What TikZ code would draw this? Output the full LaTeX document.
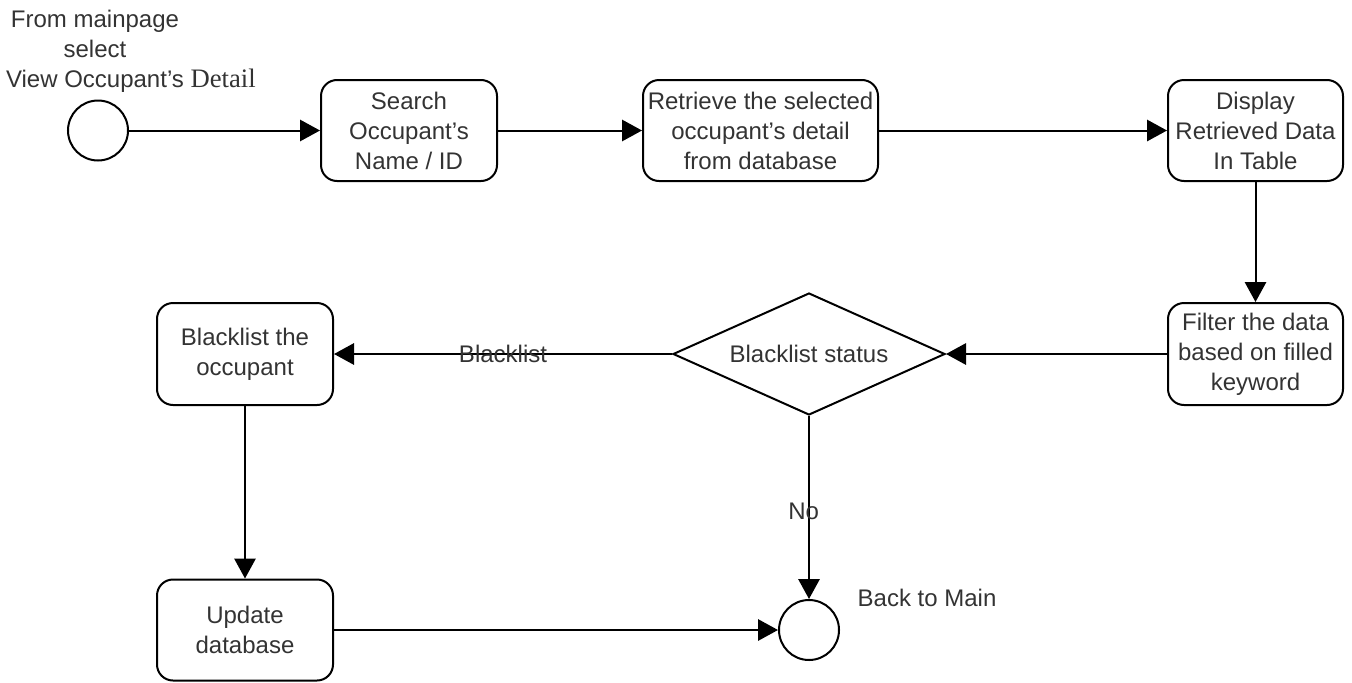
\documentclass[tikz,border=0pt]{standalone}
\usepackage{fontspec}
\setmainfont{Liberation Sans}
\newfontfamily\serifpart{Liberation Serif}
\usetikzlibrary{shapes.geometric,arrows.meta}
\definecolor{inkgray}{HTML}{333333}
\begin{document}
\begin{tikzpicture}[x=0.75pt,y=-0.75pt,
  txt/.style={font=\fontsize{18pt}{22.5pt}\selectfont, text=inkgray, align=center},
  action/.style={txt, draw=black, line width=1.5pt, rounded corners=12pt,
    minimum height=75.75pt, inner sep=1pt},
  decision/.style={txt, draw=black, line width=1.5pt, diamond, shape aspect=2.23,
    inner sep=0pt, minimum width=204pt, minimum height=91.5pt},
  terminal/.style={draw=black, line width=1.5pt, circle, minimum size=45pt, inner sep=0pt},
  flow/.style={draw=black, line width=1.5pt, -{Triangle[length=15pt,width=16pt]}}]
\useasboundingbox (0,0) rectangle (1352,682);

% start and end points
\node[terminal] (start) at (98,130.5) {};
\node[txt] (startlbl) at (95,51)
  {From mainpage\\select\\View Occupant's\rlap{ {\serifpart\fontsize{20pt}{22pt}\selectfont Detail}}};
\node[terminal] (end) at (809,630) {};
\node[txt, anchor=west] (endlbl) at (853,598) {Back to Main};

% activities
\node[action, minimum width=132pt] (search) at (409,130.5) {Search\\Occupant's\\Name / ID};
\node[action, minimum width=176.25pt] (retrieve) at (760.5,130.5) {Retrieve the selected\\occupant's detail\\from database};
\node[action, minimum width=131.25pt] (display) at (1255.5,130.5) {Display\\Retrieved Data\\In Table};
\node[action, minimum width=131.25pt, minimum height=76.5pt] (filter) at (1255.5,354) {Filter the data\\based on filled\\keyword};
\node[decision] (status) at (809,354) {Blacklist status};
\node[action, minimum width=132pt, minimum height=76.5pt] (blacklist) at (245,354) {Blacklist the\\occupant};
\node[action, minimum width=132pt] (update) at (245,630) {Update\\database};

% connectors
\draw[flow] (start) -- (search);
\draw[flow] (search) -- (retrieve);
\draw[flow] (retrieve) -- (display);
\draw[flow] (display) -- (filter);
\draw[flow] (filter) -- (status);
\draw[flow] (status) -- node[txt, pos=0.5] (blabel) {Blacklist} (blacklist);
\draw[flow] (blacklist) -- (update);
\draw[flow] (update) -- (end);
\draw[flow] (status) -- node[txt, pos=0.52, xshift=-4pt] (nolabel) {No} (end);
\end{tikzpicture}
\end{document}
